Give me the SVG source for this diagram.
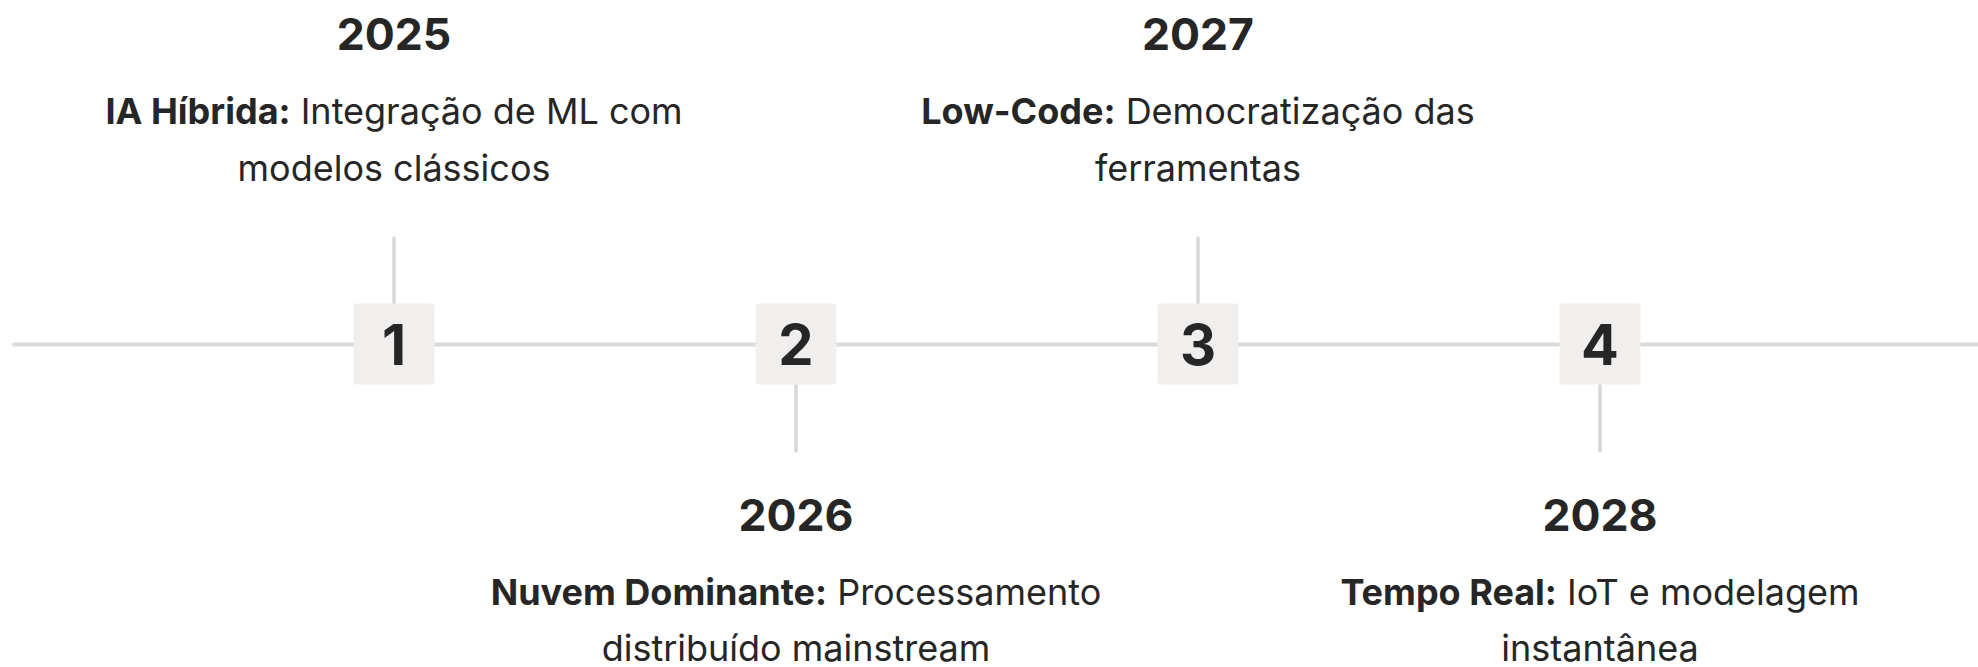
<svg xmlns="http://www.w3.org/2000/svg" width="1978" height="667" viewBox="0 0 1978 667">
  <style>
    .axis { stroke: #dbd8d8; stroke-width: 4; stroke-linecap: round; fill: none; }
    .stub { stroke: #d9d6d6; stroke-width: 3.5; stroke-linecap: round; fill: none; }
    .marker { fill: #f1eeee; }
    .num { font-family: Inter, "Liberation Sans", sans-serif; font-weight: 700; font-size: 56px; fill: #262626; text-anchor: middle; }
    .year { font-family: Inter, "Liberation Sans", sans-serif; font-weight: 700; font-size: 44.5px; fill: #262626; text-anchor: middle; }
    .desc { font-family: Inter, "Liberation Sans", sans-serif; font-weight: 400; font-size: 36px; fill: #262626; text-anchor: middle; }
    .desc .b { font-weight: 700; }
  </style>
  <rect width="1978" height="667" fill="#ffffff"/>

  <!-- timeline axis and stubs -->
  <g id="connectors">
    <line class="axis" x1="14" y1="344.5" x2="1978" y2="344.5"/>
    <line class="stub" x1="394" y1="238" x2="394" y2="304"/>
    <line class="stub" x1="796" y1="385" x2="796" y2="451"/>
    <line class="stub" x1="1198" y1="238" x2="1198" y2="304"/>
    <line class="stub" x1="1600" y1="385" x2="1600" y2="451"/>
  </g>

  <g id="event-2025">
    <rect class="marker" x="353.5" y="303.5" width="81" height="81" rx="4"/>
    <text class="num" x="394" y="365">1</text>
    <text class="year" x="394" y="50">2025</text>
    <text class="desc" x="394" y="124"><tspan class="b">IA Híbrida:</tspan> Integração de ML com</text>
    <text class="desc" x="394" y="181">modelos clássicos</text>
  </g>

  <g id="event-2026">
    <rect class="marker" x="755.5" y="303.5" width="81" height="81" rx="4"/>
    <text class="num" x="796" y="365">2</text>
    <text class="year" x="796" y="531">2026</text>
    <text class="desc" x="796" y="604.5"><tspan class="b">Nuvem Dominante:</tspan> Processamento</text>
    <text class="desc" x="796" y="661">distribuído mainstream</text>
  </g>

  <g id="event-2027">
    <rect class="marker" x="1157.5" y="303.5" width="81" height="81" rx="4"/>
    <text class="num" x="1198" y="365">3</text>
    <text class="year" x="1198" y="50">2027</text>
    <text class="desc" x="1198" y="124"><tspan class="b">Low-Code:</tspan> Democratização das</text>
    <text class="desc" x="1198" y="181">ferramentas</text>
  </g>

  <g id="event-2028">
    <rect class="marker" x="1559.5" y="303.5" width="81" height="81" rx="4"/>
    <text class="num" x="1600" y="365">4</text>
    <text class="year" x="1600" y="531">2028</text>
    <text class="desc" x="1600" y="604.5"><tspan class="b">Tempo Real:</tspan> IoT e modelagem</text>
    <text class="desc" x="1600" y="661">instantânea</text>
  </g>
</svg>
